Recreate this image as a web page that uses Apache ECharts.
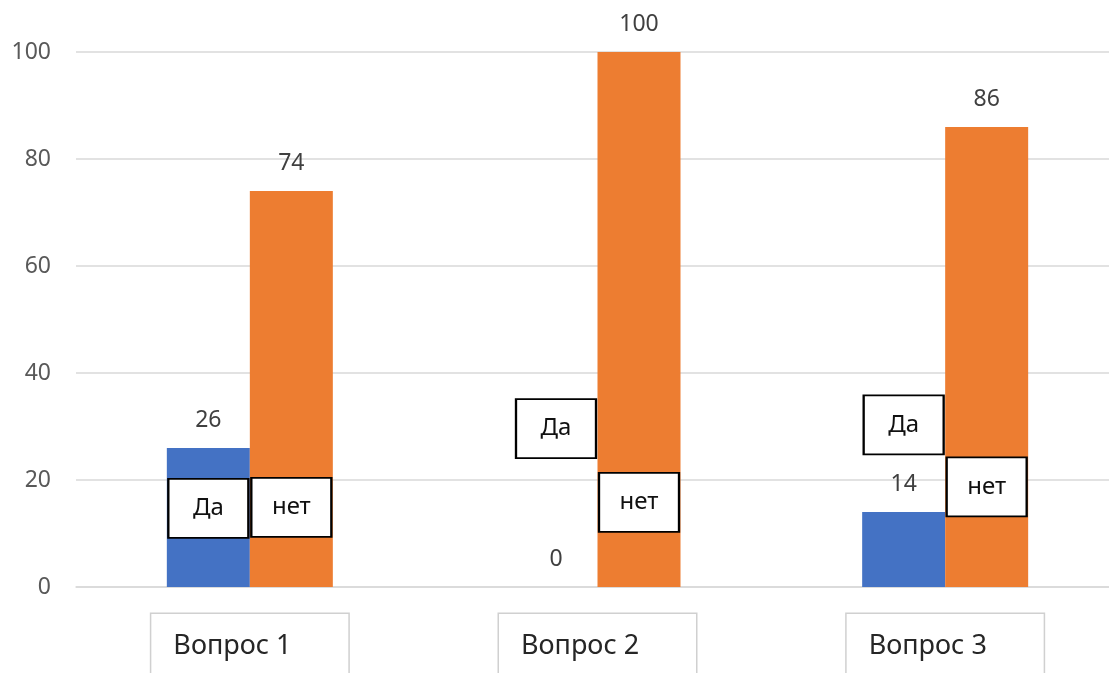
<!DOCTYPE html>
<html>
<head>
<meta charset="utf-8">
<title>Вопросы</title>
<script src="https://cdn.jsdelivr.net/npm/echarts@6/dist/echarts.min.js"></script>
<style>
  html, body { margin: 0; padding: 0; background: #ffffff; }
  #chart { width: 1109px; height: 673px; }
</style>
</head>
<body>
<div id="chart"></div>
<script>
// Survey answers per question, percent
const categories = ['Вопрос 1', 'Вопрос 2', 'Вопрос 3'];
const yesValues = [26, 0, 14];
const noValues = [74, 100, 86];
const yesName = 'Да';
const noName = 'нет';

// Value level on the y axis where each boxed "Да" / "нет" note is centred.
const yesNoteLevel = [14.7, 29.6, 30.3];
const noNoteLevel = [14.9, 15.8, 18.7];

const FONT = '"Noto Sans", "Open Sans", sans-serif';

function notes(text, levels) {
  return {
    silent: true,
    symbol: 'rect',
    symbolSize: [80, 59],
    itemStyle: { color: '#ffffff', borderColor: '#000000', borderWidth: 2 },
    label: {
      show: true,
      position: 'inside',
      formatter: text,
      fontFamily: FONT,
      fontSize: 24,
      color: '#111111'
    },
    data: levels.map((v, i) => ({ coord: [i, v] }))
  };
}

const valueLabel = {
  show: true,
  position: 'top',
  distance: 16,
  fontFamily: FONT,
  fontSize: 23,
  color: '#404040'
};

const chart = echarts.init(document.getElementById('chart'), null, { renderer: 'canvas' });
chart.setOption({
  animation: false,
  backgroundColor: '#ffffff',
  grid: { left: 76, right: -10, top: 52, bottom: 86, containLabel: false, outerBoundsMode: 'none' },
  xAxis: {
    type: 'category',
    data: categories,
    axisLine: { lineStyle: { color: '#d9d9d9', width: 1.5 } },
    axisTick: { show: false },
    axisLabel: {
      margin: 27,
      formatter: v => '{t|' + v + '}',
      padding: [14, 22, 40, 22],
      borderColor: '#d0d0d0',
      borderWidth: 1.5,
      backgroundColor: '#ffffff',
      rich: {
        t: {
          width: 153,
          align: 'left',
          fontFamily: FONT,
          fontSize: 27,
          lineHeight: 36,
          color: '#262626'
        }
      }
    }
  },
  yAxis: {
    type: 'value',
    min: 0,
    max: 100,
    interval: 20,
    axisLine: { show: false },
    axisTick: { show: false },
    axisLabel: { margin: 25, fontFamily: FONT, fontSize: 23, color: '#595959' },
    splitLine: { lineStyle: { color: '#d9d9d9', width: 1.5 } }
  },
  series: [
    {
      name: yesName,
      type: 'bar',
      data: yesValues,
      barWidth: 83,
      barGap: '0%',
      itemStyle: { color: '#4472C4' },
      label: valueLabel,
      markPoint: notes(yesName, yesNoteLevel)
    },
    {
      name: noName,
      type: 'bar',
      data: noValues,
      barWidth: 83,
      barGap: '0%',
      itemStyle: { color: '#ED7D31' },
      label: valueLabel,
      markPoint: notes(noName, noNoteLevel)
    }
  ]
});
</script>
</body>
</html>
